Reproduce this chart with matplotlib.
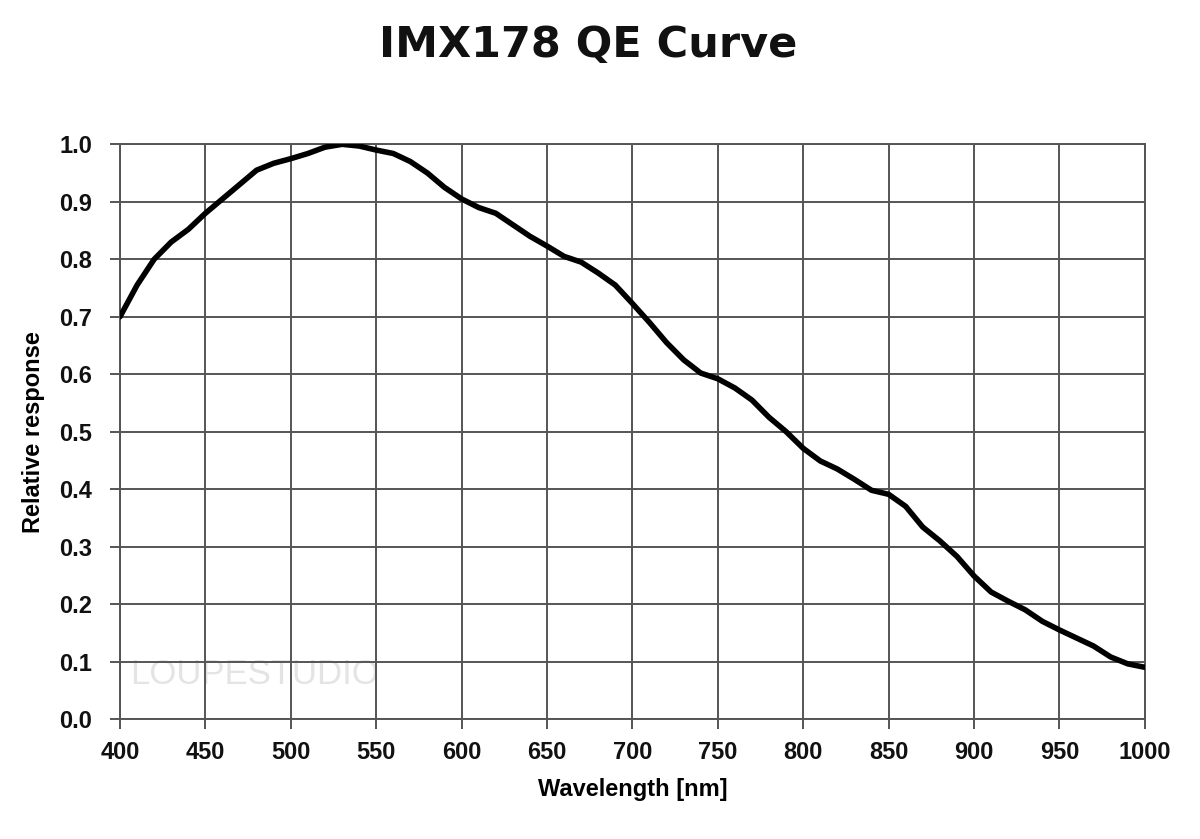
import matplotlib
matplotlib.use("Agg")
import matplotlib.pyplot as plt
import numpy as np

wavelength = [400, 410, 420, 430, 440, 450, 460, 470, 480, 490, 500, 510, 520, 530, 540,
              550, 560, 570, 580, 590, 600, 610, 620, 630, 640, 650, 660, 670, 680, 690,
              700, 710, 720, 730, 740, 750, 760, 770, 780, 790, 800, 810, 820, 830, 840,
              850, 860, 870, 880, 890, 900, 910, 920, 930, 940, 950, 960, 970, 980, 990, 1000]
response = [0.700, 0.755, 0.800, 0.830, 0.852, 0.880, 0.905, 0.930, 0.955, 0.967, 0.975,
            0.984, 0.995, 1.000, 0.997, 0.990, 0.984, 0.970, 0.950, 0.925, 0.905, 0.890,
            0.880, 0.860, 0.840, 0.823, 0.805, 0.795, 0.776, 0.755, 0.723, 0.690, 0.655,
            0.625, 0.602, 0.592, 0.576, 0.555, 0.525, 0.500, 0.471, 0.449, 0.435, 0.417,
            0.398, 0.391, 0.370, 0.334, 0.310, 0.283, 0.249, 0.221, 0.205, 0.190, 0.170,
            0.155, 0.141, 0.127, 0.108, 0.096, 0.090]

x_ticks = list(range(400, 1001, 50))
y_ticks = [round(v * 0.1, 1) for v in range(11)]

title = "IMX178 QE Curve"
xlabel = "Wavelength [nm]"
ylabel = "Relative response"
watermark = "LOUPESTUDIO"

plt.rcParams['font.family'] = ['Liberation Sans', 'DejaVu Sans']

fig = plt.figure(figsize=(12, 8.39), dpi=100)
ax = fig.add_axes([0.1, 0.143, 0.854, 0.685])

grid_color = "#555555"
ax.plot(wavelength, response, color="black", linewidth=4.0, solid_capstyle="round",
        solid_joinstyle="round", zorder=3)

ax.set_xlim(400, 1000)
ax.set_ylim(0, 1.0)
ax.set_xticks(x_ticks)
ax.set_yticks(y_ticks)
ax.set_xticklabels([str(t) for t in x_ticks])
ax.set_yticklabels([f"{t:.1f}" for t in y_ticks])
ax.grid(True, color=grid_color, linewidth=1.4)
for s in ax.spines.values():
    s.set_color(grid_color)
    s.set_linewidth(1.4)
ax.tick_params(axis='both', direction='out', length=7, width=1.4, color=grid_color,
               labelsize=17)
ax.tick_params(axis='y', pad=13)
ax.tick_params(axis='x', pad=9)
for lbl in ax.get_xticklabels() + ax.get_yticklabels():
    lbl.set_fontweight('bold')
    lbl.set_color('#111111')

ax.set_xlabel(xlabel, fontsize=17, fontweight='bold', labelpad=10)
ax.set_ylabel(ylabel, fontsize=17, fontweight='bold', labelpad=10)

fig.text(0.49, 0.946, title, ha='center', va='center', fontsize=31,
         fontweight='bold', family='DejaVu Sans', color='#111111')

ax.text(406, 0.077, watermark, fontsize=25, color='#e4e4e4', zorder=1,
        va='center', ha='left')

fig.savefig("out.png", dpi=100, facecolor='white')
